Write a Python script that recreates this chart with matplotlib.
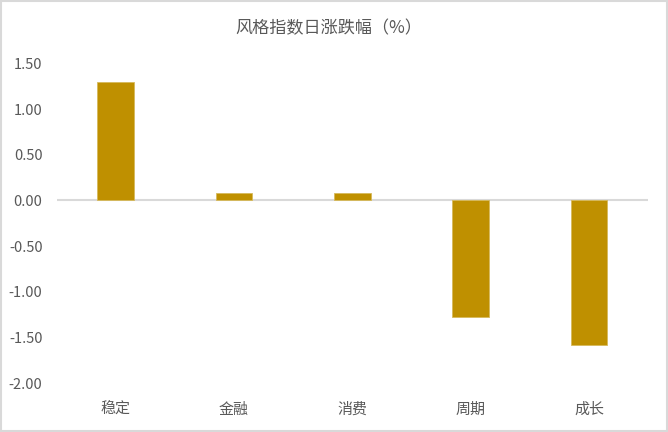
import matplotlib.pyplot as plt
from matplotlib.patches import Rectangle

plt.rcParams['font.family'] = ['Noto Sans CJK SC', 'DejaVu Sans']

categories = ['稳定', '金融', '消费', '周期', '成长']
values = [1.29, 0.08, 0.08, -1.27, -1.58]
yticks = [-2.0, -1.5, -1.0, -0.5, 0.0, 0.5, 1.0, 1.5]

text_color = '#595959'
bar_color = '#BF9000'

fig = plt.figure(figsize=(6.68, 4.32), dpi=100)
ax = fig.add_axes([0.0846, 0.1127, 0.8859, 0.7408])

x = list(range(len(categories)))
ax.bar(x, values, width=0.31, color=bar_color, edgecolor='#D6B95C', linewidth=0.6, zorder=2)
ax.axhline(0, color='#D9D9D9', linewidth=1.5, zorder=1)

ax.set_xlim(-0.5, len(categories) - 0.5)
ax.set_ylim(-2.0, 1.5)
ax.set_yticks(yticks)
ax.set_yticklabels([f'{v:.2f}' for v in yticks])
ax.set_xticks(x)
ax.set_xticklabels(categories)

ax.tick_params(axis='y', length=0, pad=10, labelsize=10.5, labelcolor=text_color)
ax.tick_params(axis='x', length=0, pad=14, labelsize=10.8, labelcolor=text_color)
for s in ax.spines.values():
    s.set_visible(False)

fig.text(0.4925, 0.934, '风格指数日涨跌幅（%）', ha='center', va='center',
         fontsize=12.3, color=text_color)

# light border round the whole chart
fig.patches.append(Rectangle((0.002, 0.003), 0.996, 0.994, transform=fig.transFigure,
                             fill=False, edgecolor='#D9D9D9', linewidth=1.5))

fig.savefig('out.png', dpi=100)
